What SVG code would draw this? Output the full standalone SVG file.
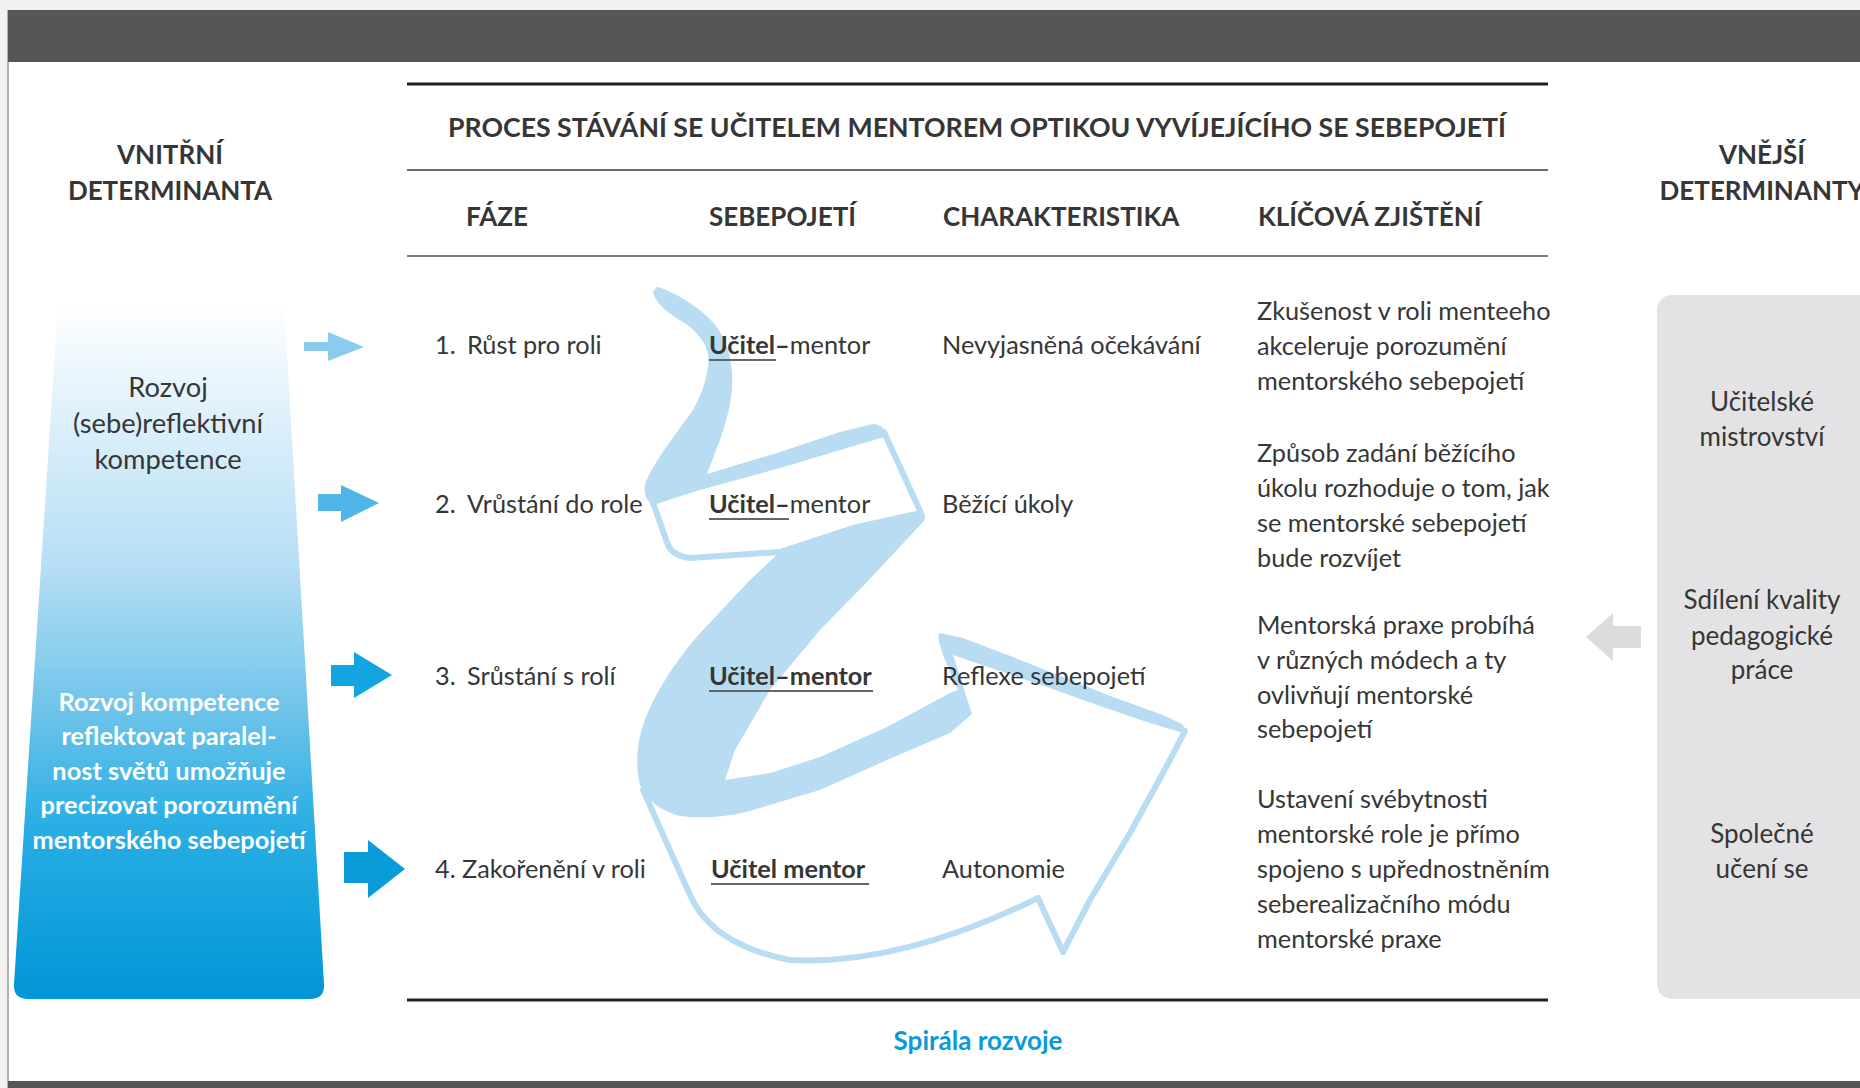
<svg xmlns="http://www.w3.org/2000/svg" width="1860" height="1088" viewBox="0 0 1860 1088">
<defs>
<linearGradient id="gradLeft" x1="0" y1="303" x2="0" y2="999" gradientUnits="userSpaceOnUse">
<stop offset="0" stop-color="#ffffff"/>
<stop offset="0.12" stop-color="#e6f4fc"/>
<stop offset="0.38" stop-color="#b6def4"/>
<stop offset="0.58" stop-color="#70c4ea"/>
<stop offset="0.75" stop-color="#2aaee4"/>
<stop offset="1" stop-color="#0096d8"/>
</linearGradient>
<style>
text{font-family:Lato,"Liberation Sans",sans-serif;fill:#363636;}
.hdr{font-size:26.7px;font-weight:700;}
.col{font-size:26px;font-weight:700;}
.det{font-size:26px;font-weight:700;}
.t{font-size:25.3px;}
.lb{font-size:27.3px;}
.rb{font-size:26px;}
.b{font-weight:700;}
.mid{text-anchor:middle;}
.wt{fill:#ffffff;font-weight:700;font-size:25.4px;}
.rib{fill:#b8ddf3;}
.ribo{fill:none;stroke:#b8ddf3;stroke-width:6;stroke-linejoin:round;stroke-linecap:round;}
.ul{stroke:#666;stroke-width:2;}
</style>
</defs>
<rect x="0" y="0" width="1860" height="1088" fill="#f1f1ef"/>
<rect x="8" y="10" width="1852" height="1078" fill="#ffffff"/>
<line x1="8" y1="10" x2="8" y2="1088" stroke="#9a9a9a" stroke-width="1.5"/>
<rect x="8" y="10" width="1852" height="52" fill="#565656"/>
<rect x="8" y="1081" width="1852" height="7" fill="#565656"/>

<g id="table-frame">
<line x1="407" y1="84" x2="1548" y2="84" stroke="#1e1e1e" stroke-width="3"/>
<line x1="407" y1="170" x2="1548" y2="170" stroke="#6a6a6a" stroke-width="2"/>
<line x1="407" y1="256" x2="1548" y2="256" stroke="#7a7a7a" stroke-width="2"/>
<line x1="407" y1="1000" x2="1548" y2="1000" stroke="#222" stroke-width="3"/>
<text class="hdr" x="448" y="137">PROCES STÁVÁNÍ SE UČITELEM MENTOREM OPTIKOU VYVÍJEJÍCÍHO SE SEBEPOJETÍ</text>
<text class="col" x="466" y="226">FÁZE</text>
<text class="col" x="709" y="226">SEBEPOJETÍ</text>
<text class="col" x="943" y="226">CHARAKTERISTIKA</text>
<text class="col" x="1258" y="226">KLÍČOVÁ ZJIŠTĚNÍ</text>
</g>

<g id="spiral">
<path class="rib" d="M656.7,286.7 C672,291 700,306 716,326 C730,345 735,372 731,398 C727,425 716,450 707,474 L780,452 L840,432 L873,424 Q883,424 885,433 L884,437 L780,468 L700,490 L653,505 Q643,500 645,484 C652,465 675,435 693,410 C704,390 710,370 708,354 C705,338 690,325 676,318 C665,310 655,302 653,292 Z"/>
<path class="ribo" d="M652,500 L668,545 Q673,556 690,558 L780,552 L853,528 L921,513 L884,432"/>
<path class="rib" d="M780,552 L853,527 L921,511 Q927,514 924,521 L867,582 L820,630 L770,690 L735,750 L725,780 L770,773 L820,757 L887,727 L950,693 L958,690 L945,660 Q935,634 940,633 L963,638 L1013,657 L1063,677 L1113,697 L1163,715 L1182,724 Q1188,730 1183,733 L1147,722 L1097,705 L1047,687 L997,670 L953,655 L972,714 L950,733 L887,760 L820,790 L753,810 C730,817 700,819 680,816 Q650,808 640,785 C634,760 638,735 648,712 C660,685 680,655 703,630 L750,580 Z"/>
<path class="ribo" d="M643,790 L690,895 Q712,945 790,960 Q900,966 1038,898 L1063,952 L1090,900 L1130,833 L1163,773 L1185,731" stroke-linejoin="miter"/>
</g>

<g id="left-determinant">
<path d="M58,303 L284,303 L324,984 Q325,999 310,999 L28,999 Q13,999 14,984 Z" fill="url(#gradLeft)"/>
<text class="det mid" x="170" y="164">VNITŘNÍ</text>
<text class="det mid" x="170" y="200">DETERMINANTA</text>
<text class="lb mid" x="168" y="397">Rozvoj</text>
<text class="lb mid" x="168" y="433">(sebe)reflektivní</text>
<text class="lb mid" x="168" y="469">kompetence</text>
<text class="wt mid" x="169" y="711">Rozvoj kompetence</text>
<text class="wt mid" x="169" y="745">reflektovat paralel-</text>
<text class="wt mid" x="169" y="780">nost světů umožňuje</text>
<text class="wt mid" x="169" y="814">precizovat porozumění</text>
<text class="wt mid" x="169" y="849">mentorského sebepojetí</text>
</g>

<g id="phase-1">
<text class="t" x="435" y="354">1.</text><text class="t" x="467" y="354">Růst pro roli</text>
<text class="t" x="709" y="354"><tspan class="b">Učitel–</tspan>mentor</text>
<line class="ul" x1="709" y1="360" x2="776" y2="360"/>
<text class="t" x="942" y="354">Nevyjasněná očekávání</text>
<text class="t" x="1257" y="320">Zkušenost v roli menteeho</text>
<text class="t" x="1257" y="355">akceleruje porozumění</text>
<text class="t" x="1257" y="390">mentorského sebepojetí</text>
</g>

<g id="phase-2">
<text class="t" x="435" y="513">2.</text><text class="t" x="467" y="513">Vrůstání do role</text>
<text class="t" x="709" y="513"><tspan class="b">Učitel–</tspan>mentor</text>
<line class="ul" x1="709" y1="519" x2="789" y2="519"/>
<text class="t" x="942" y="513">Běžící úkoly</text>
<text class="t" x="1257" y="462">Způsob zadání běžícího</text>
<text class="t" x="1257" y="497">úkolu rozhoduje o tom, jak</text>
<text class="t" x="1257" y="532">se mentorské sebepojetí</text>
<text class="t" x="1257" y="567">bude rozvíjet</text>
</g>

<g id="phase-3">
<text class="t" x="435" y="685">3.</text><text class="t" x="467" y="685">Srůstání s rolí</text>
<text class="t b" x="709" y="685">Učitel–mentor</text>
<line class="ul" x1="709" y1="691" x2="873" y2="691"/>
<text class="t" x="942" y="685">Reflexe sebepojetí</text>
<text class="t" x="1257" y="634">Mentorská praxe probíhá</text>
<text class="t" x="1257" y="669">v různých módech a ty</text>
<text class="t" x="1257" y="704">ovlivňují mentorské</text>
<text class="t" x="1257" y="738">sebepojetí</text>
</g>

<g id="phase-4">
<text class="t" x="435" y="878">4. Zakořenění v roli</text>
<text class="t b" x="711" y="878">Učitel mentor</text>
<line class="ul" x1="711" y1="884" x2="869" y2="884"/>
<text class="t" x="942" y="878">Autonomie</text>
<text class="t" x="1257" y="808">Ustavení svébytnosti</text>
<text class="t" x="1257" y="843">mentorské role je přímo</text>
<text class="t" x="1257" y="878">spojeno s upřednostněním</text>
<text class="t" x="1257" y="913">seberealizačního módu</text>
<text class="t" x="1257" y="948">mentorské praxe</text>
</g>

<g id="right-determinants">
<rect x="1657" y="295" width="230" height="704" rx="15" fill="#e3e3e5"/>
<text class="det mid" x="1762" y="164">VNĚJŠÍ</text>
<text class="det mid" x="1762" y="200">DETERMINANTY</text>
<text class="rb mid" x="1762" y="411">Učitelské</text>
<text class="rb mid" x="1762" y="446">mistrovství</text>
<text class="rb mid" x="1762" y="609">Sdílení kvality</text>
<text class="rb mid" x="1762" y="645">pedagogické</text>
<text class="rb mid" x="1762" y="679">práce</text>
<text class="rb mid" x="1762" y="843">Společné</text>
<text class="rb mid" x="1762" y="878">učení se</text>
</g>

<g id="caption">
<text class="mid" x="978" y="1050" style="font-size:26px;font-weight:700;fill:#0a9ad7">Spirála rozvoje</text>
</g>

<g id="connectors">
<polygon points="304,342 328,342 328,332 364,347 328,361 328,351 304,351" fill="#8ccbee"/>
<polygon points="318,494 341,494 341,485 379,503 341,522 341,511 318,511" fill="#4fb6e7"/>
<polygon points="331,665 354,665 354,652 392,675 354,698 354,686 331,686" fill="#12a5e1"/>
<polygon points="344,852 368,852 368,840 405,869 368,898 368,883 344,883" fill="#0a9bd9"/>
<polygon points="1641,626 1613,626 1613,613 1586,637 1613,661 1613,648 1641,648" fill="#dcdcdc"/>
</g>
</svg>
